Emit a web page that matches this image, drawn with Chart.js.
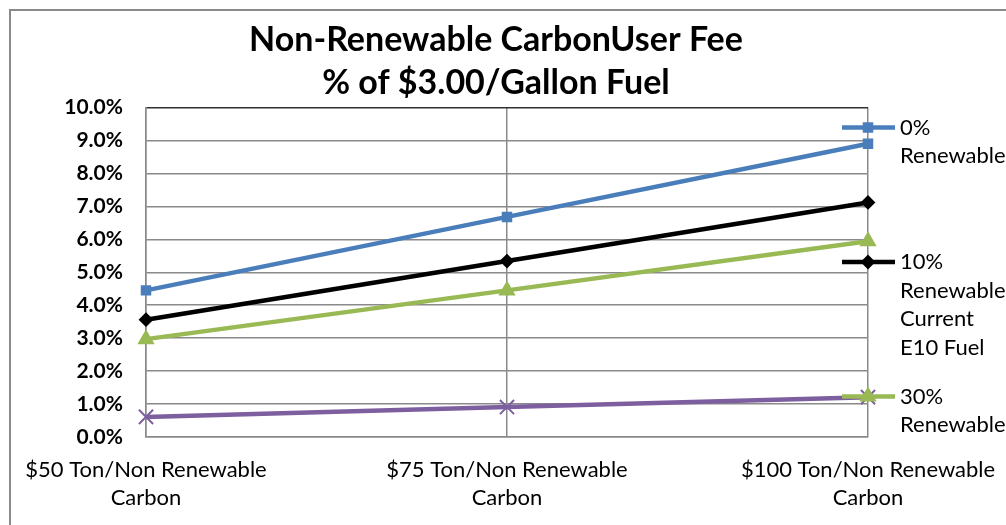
<!DOCTYPE html>
<html>
<head>
<meta charset="utf-8">
<script src="https://cdn.jsdelivr.net/npm/chart.js@4.4.0/dist/chart.umd.min.js"></script>
<style>
	html, body { margin: 0; padding: 0; background: #fff; overflow: hidden; }
	#frame { position: absolute; left: 9px; top: 9px; width: 1100px; height: 600px; border: 2px solid #8a8a8a; }
	#chart { position: absolute; left: 0; top: 0; }
</style>
</head>
<body>
<div id="frame"></div>
<canvas id="chart" width="1006" height="525"></canvas>
<script>
// Values, in percent of a $3.00 gallon.
const categories = [
	["$50 Ton/Non Renewable", "Carbon"],
	["$75 Ton/Non Renewable", "Carbon"],
	["$100 Ton/Non Renewable", "Carbon"],
];
// the 4th (purple) legend entry is cut off in the original, name unknown
const seriesNames = [
	["0%", "Renewable"],
	["10%", "Renewable", "Current", "E10 Fuel"],
	["30%", "Renewable"],
	null,
];
const renewable0 = [4.45, 6.68, 8.90];
const renewable10 = [3.56, 5.34, 7.12];
const renewable30 = [2.97, 4.45, 5.94];
const renewable85 = [0.61, 0.91, 1.21];
const yTicks = { min: 0, max: 10, step: 0.5 };

const colours = ["#4a7ebb", "#000000", "#98b954", "#7d5fa0"];
const markers = [
	{ style: "rect", radius: 6 },
	{ style: "rectRot", radius: 6 },
	{ style: "triangle", radius: 8 },
	{ style: "crossRot", radius: 10 },
];

function makeSet(i, values){
	return {
		label: seriesNames[i] ? seriesNames[i].join(" ") : "",
		data: values,
		borderColor: colours[i],
		backgroundColor: colours[i],
		borderWidth: 4.5,
		pointStyle: markers[i].style,
		pointRadius: markers[i].radius,
		pointBorderWidth: 2,
		pointBorderColor: colours[i],
		pointBackgroundColor: colours[i],
		tension: 0,
	};
}

// Excel-style legend: line sample straddling the right plot edge, wrapped text.
const sideLegend = {
	id: "sideLegend",
	afterDraw(chart){
		const ctx = chart.ctx;
		const area = chart.chartArea;
		ctx.save();
		chart.data.datasets.forEach((ds, i) => {
			if (!seriesNames[i]) return;
			const y = area.top + 20 + i * 134.5;
			ctx.strokeStyle = ds.borderColor;
			ctx.lineWidth = ds.borderWidth;
			ctx.beginPath();
			ctx.moveTo(area.right - 26, y);
			ctx.lineTo(area.right + 27, y);
			ctx.stroke();
			ctx.fillStyle = ds.backgroundColor;
			ctx.lineWidth = 2;
			Chart.helpers.drawPoint(ctx, { pointStyle: ds.pointStyle, radius: ds.pointRadius, rotation: 0, borderWidth: 2 }, area.right, y);
			ctx.fillStyle = "#000";
			ctx.font = "22px Lato";
			ctx.textBaseline = "middle";
			ctx.textAlign = "left";
			seriesNames[i].forEach((line, k) => ctx.fillText(line, area.right + 32, y + k * 28.5));
		});
		ctx.restore();
	}
};

new Chart(document.getElementById("chart"), {
	type: "line",
	data: {
		labels: categories,
		datasets: [
			makeSet(0, renewable0),
			makeSet(1, renewable10),
			makeSet(2, renewable30),
			makeSet(3, renewable85),
		],
	},
	options: {
		responsive: false,
		animation: false,
		layout: { padding: { left: 0, right: 14, top: 0, bottom: 0 } },
		plugins: {
			legend: { display: false },
			tooltip: { enabled: false },
			title: {
				display: true,
				text: ["Non-Renewable CarbonUser Fee", "% of $3.00/Gallon Fuel"],
				color: "#000",
				font: { family: "Lato", weight: "bold", size: 34, lineHeight: 1.265 },
				padding: { top: 19, bottom: 2.5 },
			},
		},
		scales: {
			x: {
				offset: false,
				grid: { color: "#8a8a8a", lineWidth: 1.5, drawTicks: false, offset: false },
				border: { color: "#8a8a8a", width: 1.5 },
				ticks: {
					color: "#000",
					font: { family: "Lato", size: 22, lineHeight: 1.27 },
					padding: 19,
					maxRotation: 0,
					autoSkip: false,
				},
				afterFit(scale){
					scale.height = 88;
					// the edge labels may spill sideways, as in the original
					scale.paddingLeft = 0;
					scale.paddingRight = 0;
				},
			},
			y: {
				min: yTicks.min,
				max: yTicks.max,
				grid: {
					drawTicks: false,
					lineWidth: 1.5,
					color: c => c.tick.value === yTicks.max ? "#303030" : (c.tick.value % 1 === 0 ? "#8a8a8a" : "#c4c4c4"),
				},
				border: { color: "#8a8a8a", width: 1.5 },
				ticks: {
					stepSize: yTicks.step,
					color: "#000",
					font: { family: "Lato", weight: "bold", size: 21 },
					padding: 23,
					callback: v => v % 1 === 0 ? v.toFixed(1) + "%" : "",
				},
				afterFit(scale){ scale.width = 146; },
			},
			// empty right-hand box that keeps room for the legend
			legendSpace: {
				type: "linear",
				position: "right",
				display: true,
				grid: { display: false },
				border: { display: false },
				ticks: { display: false },
				afterFit(scale){ scale.width = 124; },
			},
		},
	},
	plugins: [sideLegend],
});
</script>
</body>
</html>
